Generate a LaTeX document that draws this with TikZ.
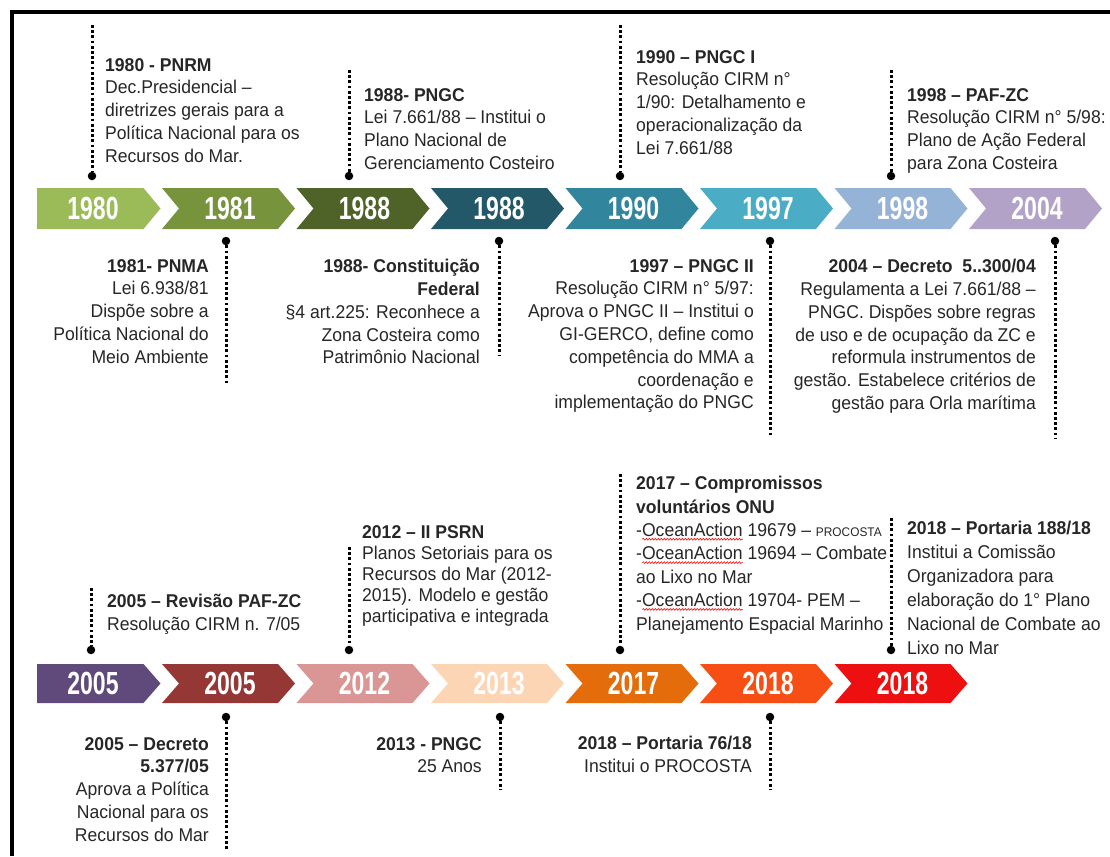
\documentclass[tikz,border=0pt]{standalone}
\usepackage{fontspec}
\setmainfont{Liberation Sans}[FakeStretch=0.95]
\newfontfamily\yearfont{Liberation Sans}[FakeStretch=0.72]
\usetikzlibrary{decorations.pathmorphing}

\newsavebox\wavebox
\newlength\wavelen
\newcommand\redwave[1]{\sbox\wavebox{#1}\setlength\wavelen{\wd\wavebox}%
  \rlap{\raisebox{-4pt}{\tikz\draw[red,line width=0.6pt,decorate,
    decoration={snake,amplitude=0.9pt,segment length=3pt}] (0pt,0pt) -- (\wavelen,0pt);}}%
  \usebox\wavebox}

\definecolor{c1980}{RGB}{155,187,89}
\definecolor{c1981}{RGB}{119,147,60}
\definecolor{c1988a}{RGB}{79,98,40}
\definecolor{c1988b}{RGB}{35,88,104}
\definecolor{c1990}{RGB}{49,133,156}
\definecolor{c1997}{RGB}{75,172,198}
\definecolor{c1998}{RGB}{149,179,215}
\definecolor{c2004}{RGB}{179,162,199}
\definecolor{c2005a}{RGB}{96,74,123}
\definecolor{c2005b}{RGB}{149,55,53}
\definecolor{c2012}{RGB}{217,150,148}
\definecolor{c2013}{RGB}{252,213,181}
\definecolor{c2017}{RGB}{228,108,10}
\definecolor{c2018a}{RGB}{246,78,20}
\definecolor{c2018b}{RGB}{238,16,16}

\begin{document}
\begin{tikzpicture}[x=1pt,y=-1pt,
    evt/.style={inner sep=0pt,text=black!85,font=\fontsize{18.5}{22.8}\selectfont},
    evtl/.style={evt,anchor=north west,align=left},
    evtr/.style={evt,anchor=north east,align=right},
    pin/.style={circle,fill=black,inner sep=0pt,minimum size=8.5pt},
    dotline/.style={line width=3pt,dash pattern=on 2.8pt off 2.4pt},
    yr/.style={inner sep=0pt,text=white,font=\yearfont\bfseries\fontsize{32}{32}\selectfont}]
  \useasboundingbox (0,0) rectangle (1110,856);
  \draw[line width=4.5pt] (1110,12) -- (12,12) -- (12,856);

  % first row of arrows
  \fill[c1980] (37,188) -- (143.5,188) -- (160.5,208.5) -- (143.5,229) -- (37,229) -- cycle;
  \node[yr] (a0) at (93,208.5) {1980};
  \foreach \i/\c/\t in {1/c1981/1981,2/c1988a/1988,3/c1988b/1988,4/c1990/1990,
      5/c1997/1997,6/c1998/1998,7/c2004/2004} {
    \fill[\c] ({27.5+134.5*\i},188) -- ++(116,0) -- ++(17,20.5) -- ++(-17,20.5)
      -- ++(-116,0) -- ++(17,-20.5) -- cycle;
    \node[yr] (a\i) at ({95.5+134.5*\i},208.5) {\t};
  }

  % second row of arrows
  \fill[c2005a] (37,664) -- (143.5,664) -- (160.5,683.5) -- (143.5,703) -- (37,703) -- cycle;
  \node[yr] (b0) at (93,683.5) {2005};
  \foreach \i/\c/\t in {1/c2005b/2005,2/c2012/2012,3/c2013/2013,4/c2017/2017,
      5/c2018a/2018,6/c2018b/2018} {
    \fill[\c] ({27.5+134.5*\i},664) -- ++(116,0) -- ++(17,19.5) -- ++(-17,19.5)
      -- ++(-116,0) -- ++(17,-19.5) -- cycle;
    \node[yr] (b\i) at ({95.5+134.5*\i},683.5) {\t};
  }

  % events above the first row
  \coordinate (ta) at (92,25);
  \node[pin] (pa) at (92,176) {};
  \draw[dotline] (ta) -- (pa);
  \node[evtl] (ea) at (105,58) {\textbf{1980 - PNRM}\\Dec.Presidencial --\\diretrizes gerais para a\\Política Nacional para os\\Recursos do Mar.};

  \coordinate (tb) at (349,70);
  \node[pin] (pb) at (349,176) {};
  \draw[dotline] (tb) -- (pb);
  \node[evtl] (eb) at (364,88) {\textbf{1988- PNGC}\\Lei 7.661/88 -- Institui o\\Plano Nacional de\\Gerenciamento Costeiro};

  \coordinate (tc) at (620,25);
  \node[pin] (pc) at (620,176) {};
  \draw[dotline] (tc) -- (pc);
  \node[evtl] (ec) at (636,50) {\textbf{1990 -- PNGC I}\\Resolução CIRM n°\\1/90: Detalhamento e\\operacionalização da\\Lei 7.661/88};

  \coordinate (td) at (891,70);
  \node[pin] (pd) at (891,176) {};
  \draw[dotline] (td) -- (pd);
  \node[evtl] (ed) at (907,88) {\textbf{1998 -- PAF-ZC}\\Resolução CIRM n° 5/98:\\Plano de Ação Federal\\para Zona Costeira};

  % events below the first row
  \node[pin] (pe) at (226,241) {};
  \coordinate (be) at (226,385);
  \draw[dotline] (pe) -- (be);
  \node[evtr] (ee) at (209,259) {\textbf{1981- PNMA}\\Lei 6.938/81\\Dispõe sobre a\\Política Nacional do\\Meio Ambiente};

  \node[pin] (pf) at (499,241) {};
  \coordinate (bf) at (499,355);
  \draw[dotline] (pf) -- (bf);
  \node[evtr] (ef) at (480,259) {\textbf{1988- Constituição}\\\textbf{Federal}\\§4 art.225: Reconhece a\\Zona Costeira como\\Patrimônio Nacional};

  \node[pin] (pg) at (770,241) {};
  \coordinate (bg) at (770,437);
  \draw[dotline] (pg) -- (bg);
  \node[evtr] (eg) at (754,259) {\textbf{1997 -- PNGC II}\\Resolução CIRM n° 5/97:\\Aprova o PNGC II -- Institui o\\GI-GERCO, define como\\competência do MMA a\\coordenação e\\implementação do PNGC};

  \node[pin] (ph) at (1055,241) {};
  \coordinate (bh) at (1055,439);
  \draw[dotline] (ph) -- (bh);
  \node[evtr] (eh) at (1036,259) {\textbf{2004 -- Decreto\ \ 5..300/04}\\Regulamenta a Lei 7.661/88 --\\PNGC. Dispões sobre regras\\de uso e de ocupação da ZC e\\reformula instrumentos de\\gestão. Estabelece critérios de\\gestão para Orla marítima};

  % events above the second row
  \coordinate (ti) at (91,588);
  \node[pin] (pi) at (91,650) {};
  \draw[dotline] (ti) -- (pi);
  \node[evtl] (ei) at (107,594) {\textbf{2005 -- Revisão PAF-ZC}\\Resolução CIRM n. 7/05};

  \coordinate (tj) at (349,547);
  \node[pin] (pj) at (349,650) {};
  \draw[dotline] (tj) -- (pj);
  \node[evtl,font=\fontsize{18.5}{21.2}\selectfont] (ej) at (362,525) {\textbf{2012 -- II PSRN}\\Planos Setoriais para os\\Recursos do Mar (2012-\\2015). Modelo e gestão\\participativa e integrada};

  \coordinate (tk) at (620,474);
  \node[pin] (pk) at (620,650) {};
  \draw[dotline] (tk) -- (pk);
  \node[evtl,font=\fontsize{18.5}{23.4}\selectfont] (ek) at (636,476) {\textbf{2017 -- Compromissos}\\\textbf{voluntários ONU}\\-\redwave{OceanAction} 19679 -- {\fontsize{12.5}{12.5}\selectfont PROCOSTA}\\-\redwave{OceanAction} 19694 -- Combate\\ao Lixo no Mar\\-\redwave{OceanAction} 19704- PEM --\\Planejamento Espacial Marinho};

  \coordinate (tl) at (891,518);
  \node[pin] (pl) at (891,650) {};
  \draw[dotline] (tl) -- (pl);
  \node[evtl,font=\fontsize{18.5}{24}\selectfont] (el) at (907,521) {\textbf{2018 -- Portaria 188/18}\\Institui a Comissão\\Organizadora para\\elaboração do 1° Plano\\Nacional de Combate ao\\Lixo no Mar};

  % events below the second row
  \node[pin] (pm) at (226,717) {};
  \coordinate (bm) at (226,851);
  \draw[dotline] (pm) -- (bm);
  \node[evtr] (em) at (209,737) {\textbf{2005 -- Decreto}\\\textbf{5.377/05}\\Aprova a Política\\Nacional para os\\Recursos do Mar};

  \node[pin] (pn) at (500,717) {};
  \coordinate (bn) at (500,790);
  \draw[dotline] (pn) -- (bn);
  \node[evtr] (en) at (482,737) {\textbf{2013 - PNGC}\\25 Anos};

  \node[pin] (po) at (770,717) {};
  \coordinate (bo) at (770,790);
  \draw[dotline] (po) -- (bo);
  \node[evtr] (eo) at (752,736) {\textbf{2018 -- Portaria 76/18}\\Institui o PROCOSTA};
\end{tikzpicture}
\end{document}
